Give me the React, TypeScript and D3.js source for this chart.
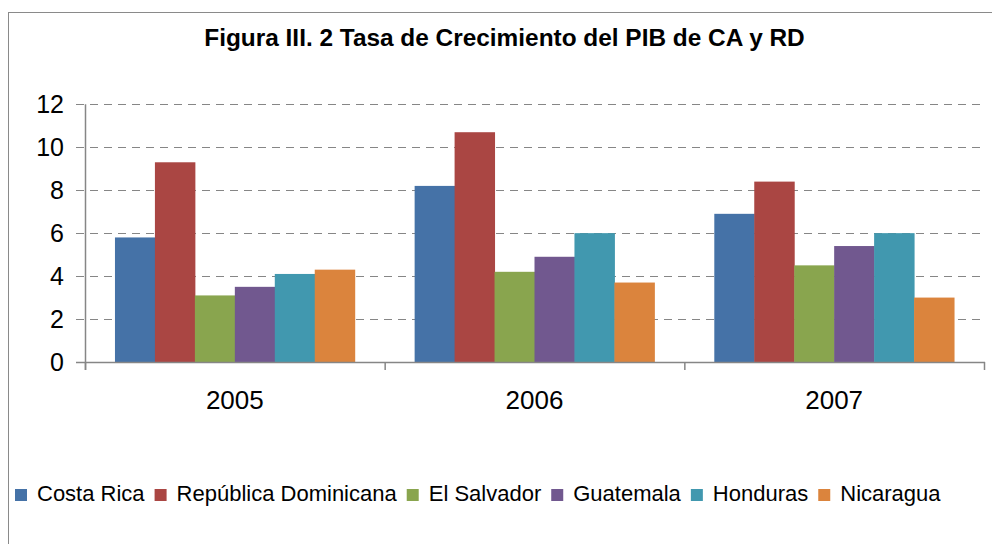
import React, { useEffect, useRef } from "react";
import * as d3 from "d3";

const years = ["2005", "2006", "2007"];
const countries = ["Costa Rica", "República Dominicana", "El Salvador", "Guatemala", "Honduras", "Nicaragua"];
const costaRica = [5.8, 8.2, 6.9];
const repDominicana = [9.3, 10.7, 8.4];
const elSalvador = [3.1, 4.2, 4.5];
const guatemala = [3.5, 4.9, 5.4];
const honduras = [4.1, 6.0, 6.0];
const nicaragua = [4.3, 3.7, 3.0];
const yTicks = [0, 2, 4, 6, 8, 10, 12];
const colors = ["#4572A7", "#AA4643", "#89A54E", "#71588F", "#4198AF", "#DB843D"];
const title = "Figura III. 2 Tasa de Crecimiento del PIB de CA y RD";

const seriesValues = [costaRica, repDominicana, elSalvador, guatemala, honduras, nicaragua];

export default function App() {
  const ref = useRef<SVGSVGElement>(null);

  useEffect(() => {
    const svg = d3.select(ref.current);
    svg.selectAll("*").remove();
    const font = "'Liberation Sans', Arial, sans-serif";
    const axisColor = "#868686";

    // frame
    svg.append("rect")
      .attr("x", 8.5).attr("y", 12.5).attr("width", 1000).attr("height", 600)
      .attr("fill", "#fff").attr("stroke", "#8a8a8a").attr("stroke-width", 1);

    // title
    svg.append("text")
      .attr("x", 504.5).attr("y", 46)
      .attr("text-anchor", "middle")
      .attr("font-family", font).attr("font-weight", "bold").attr("font-size", 24.4)
      .attr("fill", "#000")
      .text(title);

    const left = 85, right = 984, top = 104.3, bottom = 362;
    const x0 = d3.scaleBand().domain(years).range([left, right]).paddingInner(0).paddingOuter(0);
    const bw = x0.bandwidth() / 7.5;
    const x1 = d3.scaleBand().domain(countries).range([0, bw * 6]);
    const y = d3.scaleLinear().domain([0, 12]).range([bottom, top]);

    // gridlines
    svg.append("g").selectAll("line").data(yTicks.filter(t => t > 0)).join("line")
      .attr("x1", 76).attr("x2", right)
      .attr("y1", d => Math.round(y(d)) + 0.5).attr("y2", d => Math.round(y(d)) + 0.5)
      .attr("stroke", axisColor).attr("stroke-width", 1.2).attr("stroke-dasharray", "8,6");

    // bars
    const groups = svg.append("g").selectAll("g").data(years).join("g")
      .attr("transform", d => `translate(${x0(d)! + (x0.bandwidth() - bw * 6) / 2},0)`);
    groups.selectAll("rect")
      .data((_, i) => countries.map((c, k) => ({ c, k, v: seriesValues[k][i] })))
      .join("rect")
      .attr("x", d => x1(d.c)!)
      .attr("width", x1.bandwidth() + 0.5)
      .attr("y", d => y(d.v))
      .attr("height", d => y(0) - y(d.v))
      .attr("fill", d => colors[d.k]);

    // y axis line and ticks
    svg.append("line").attr("x1", left + 0.5).attr("x2", left + 0.5).attr("y1", top).attr("y2", bottom + 8)
      .attr("stroke", axisColor).attr("stroke-width", 1.5);
    svg.append("line").attr("x1", 76).attr("x2", right + 1).attr("y1", bottom + 0.5).attr("y2", bottom + 0.5)
      .attr("stroke", axisColor).attr("stroke-width", 1.5);
    // x category ticks
    const catEdges = [...years.map(d => x0(d)!), right];
    svg.append("g").selectAll("line").data(catEdges).join("line")
      .attr("x1", d => d + 0.5).attr("x2", d => d + 0.5).attr("y1", bottom).attr("y2", bottom + 8)
      .attr("stroke", axisColor).attr("stroke-width", 1.5);

    // y labels
    svg.append("g").selectAll("text").data(yTicks).join("text")
      .attr("x", 64).attr("y", d => y(d))
      .attr("dy", "0.35em")
      .attr("text-anchor", "end")
      .attr("font-family", font).attr("font-size", 25).attr("fill", "#000")
      .text(d => String(d));

    // x labels
    svg.append("g").selectAll("text").data(years).join("text")
      .attr("x", d => x0(d)! + x0.bandwidth() / 2).attr("y", 409)
      .attr("text-anchor", "middle")
      .attr("font-family", font).attr("font-size", 26).attr("fill", "#000")
      .text(d => d);

    // legend
    const lg = svg.append("g");
    let cx = 15;
    countries.forEach((c, k) => {
      lg.append("rect").attr("x", cx).attr("y", 489).attr("width", 12).attr("height", 12).attr("fill", colors[k]);
      const t = lg.append("text")
        .attr("x", cx + 22).attr("y", 501)
        .attr("font-family", font).attr("font-size", 22).attr("fill", "#000")
        .text(c);
      const w = (t.node() as SVGTextElement).getComputedTextLength();
      cx = cx + 22 + w + 10;
    });
  }, []);

  return (
    <svg ref={ref} width={992} height={544}
      style={{ position: "absolute", left: 0, top: 0, background: "#fff" }} />
  );
}
